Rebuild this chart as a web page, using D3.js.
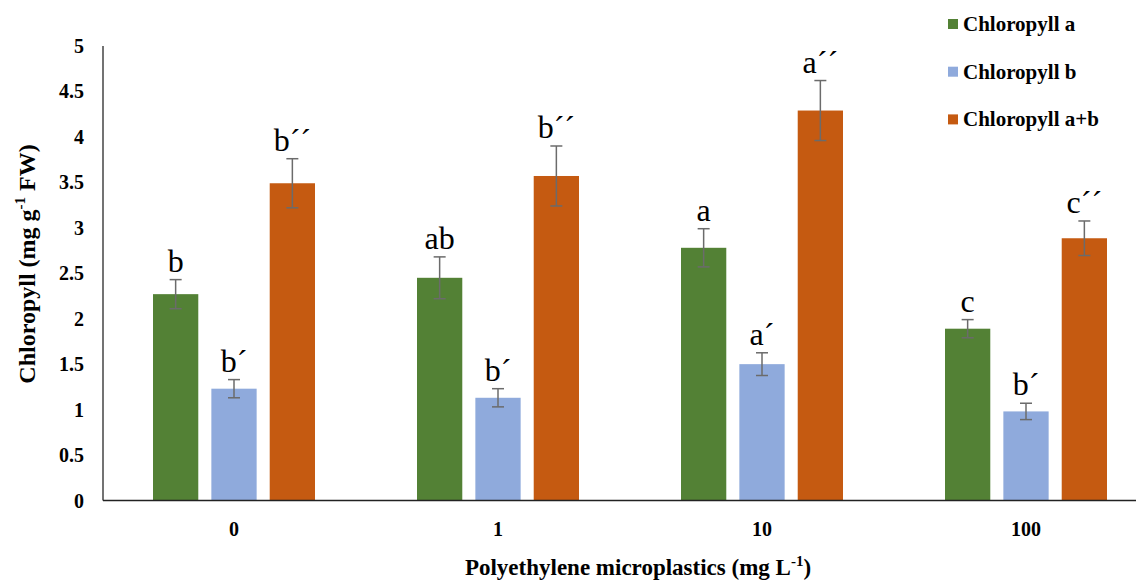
<!DOCTYPE html>
<html>
<head>
<meta charset="utf-8">
<script src="https://cdn.jsdelivr.net/npm/d3@7"></script>
<style>
  body { margin: 0; background: #fff; }
  text { font-family: "Liberation Serif", "Times New Roman", serif; }
</style>
</head>
<body>
<svg id="chart" width="1136" height="581"></svg>
<script>
// data
const doses = ["0", "1", "10", "100"];
const seriesNames = ["Chloropyll a", "Chloropyll b", "Chloropyll a+b"];
const chlA = [2.27, 2.45, 2.78, 1.89];
const chlB = [1.23, 1.13, 1.50, 0.98];
const chlAB = [3.49, 3.57, 4.29, 2.885];
const errA = [0.16, 0.23, 0.21, 0.10];
const errB = [0.10, 0.10, 0.125, 0.09];
const errAB = [0.27, 0.33, 0.33, 0.19];
const lettersA = ["b", "ab", "a", "c"];
const lettersB = ["b\u00B4", "b\u00B4", "a\u00B4", "b\u00B4"];
const lettersAB = ["b\u00B4\u00B4", "b\u00B4\u00B4", "a\u00B4\u00B4", "c\u00B4\u00B4"];
const yTicks = [0, 0.5, 1, 1.5, 2, 2.5, 3, 3.5, 4, 4.5, 5];
const colors = ["#538135", "#8FAADC", "#C55A11"];

const values = [chlA, chlB, chlAB];
const errs = [errA, errB, errAB];
const letters = [lettersA, lettersB, lettersAB];

const svg = d3.select("#chart");
svg.append("rect").attr("width", 1136).attr("height", 581).attr("fill", "#fff");

const y = d3.scaleLinear().domain([0, 5]).range([500.5, 46]);
const x0 = d3.scaleBand().domain(doses).range([102, 1158]);
const x1 = d3.scaleBand().domain(d3.range(3)).range([-81, 81]).paddingInner(0.224);

// y tick labels
svg.append("g").selectAll("text")
    .data(yTicks)
    .enter().append("text")
    .attr("x", 84)
    .attr("y", d => y(d))
    .attr("dy", "0.35em")
    .attr("text-anchor", "end")
    .style("font-size", "20px")
    .style("font-weight", "bold")
    .text(d => d);

// bars
const groups = svg.append("g").selectAll("g")
    .data(doses)
    .enter().append("g")
    .attr("transform", d => `translate(${x0(d) + x0.bandwidth() / 2},0)`);

groups.each(function(dose, gi) {
    const g = d3.select(this);
    d3.range(3).forEach(si => {
        const v = values[si][gi], e = errs[si][gi];
        const cx = x1(si) + x1.bandwidth() / 2;
        g.append("rect")
            .attr("x", x1(si))
            .attr("y", y(v))
            .attr("width", x1.bandwidth())
            .attr("height", y(0) - y(v))
            .attr("fill", colors[si]);
        g.append("line")
            .attr("x1", cx).attr("x2", cx)
            .attr("y1", y(v + e)).attr("y2", y(v - e))
            .attr("stroke", "#6b6b6b").attr("stroke-width", 1.5);
        [v + e, v - e].forEach(t => {
            g.append("line")
                .attr("x1", cx - 6).attr("x2", cx + 6)
                .attr("y1", y(t)).attr("y2", y(t))
                .attr("stroke", "#6b6b6b").attr("stroke-width", 1.5);
        });
        g.append("text")
            .attr("x", cx)
            .attr("y", y(v + e) - 8)
            .attr("text-anchor", "middle")
            .style("font-size", "32px")
            .text(letters[si][gi]);
    });
});

// axis lines
svg.append("line")
    .attr("x1", 103).attr("x2", 103)
    .attr("y1", y(5)).attr("y2", y(0))
    .attr("stroke", "#444").attr("stroke-width", 1.5);
svg.append("line")
    .attr("x1", 103).attr("x2", 1136)
    .attr("y1", y(0)).attr("y2", y(0))
    .attr("stroke", "#222").attr("stroke-width", 1.5);

// x tick labels
svg.append("g").selectAll("text")
    .data(doses)
    .enter().append("text")
    .attr("x", d => x0(d) + x0.bandwidth() / 2)
    .attr("y", 536)
    .attr("text-anchor", "middle")
    .style("font-size", "20px")
    .style("font-weight", "bold")
    .text(d => d);

// axis titles
const xt = svg.append("text")
    .attr("x", 638)
    .attr("y", 575)
    .attr("text-anchor", "middle")
    .style("font-size", "23px")
    .style("font-weight", "bold");
xt.append("tspan").text("Polyethylene microplastics (mg L");
xt.append("tspan").attr("dy", -9).style("font-size", "15px").text("-1");
xt.append("tspan").attr("dy", 9).text(")");

const yt = svg.append("text")
    .attr("transform", "translate(35,264) rotate(-90)")
    .attr("text-anchor", "middle")
    .style("font-size", "24px")
    .style("font-weight", "bold");
yt.append("tspan").text("Chloropyll (mg g");
yt.append("tspan").attr("dy", -10).style("font-size", "15px").text("-1");
yt.append("tspan").attr("dy", 10).text(" FW)");

// legend
const legend = svg.append("g").selectAll("g")
    .data(seriesNames)
    .enter().append("g")
    .attr("transform", (d, i) => `translate(948, ${24 + i * 47.7})`);
legend.append("rect")
    .attr("x", 0).attr("y", -5)
    .attr("width", 10).attr("height", 10)
    .attr("fill", (d, i) => colors[i]);
legend.append("text")
    .attr("x", 15)
    .attr("dy", "0.33em")
    .style("font-size", "21px")
    .style("font-weight", "bold")
    .text(d => d);
</script>
</body>
</html>
